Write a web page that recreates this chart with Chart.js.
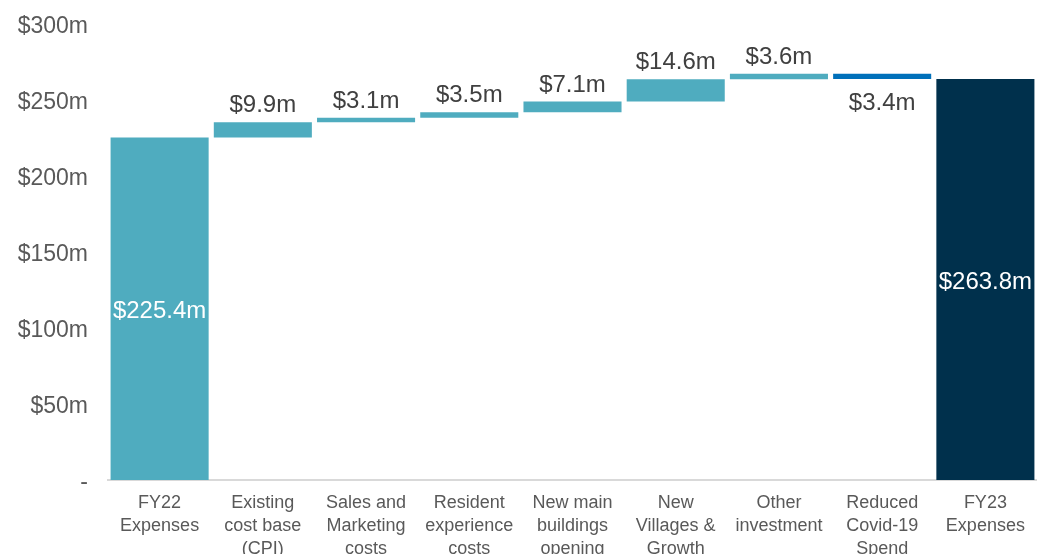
<!DOCTYPE html>
<html>
<head>
<meta charset="utf-8">
<script src="https://cdn.jsdelivr.net/npm/chart.js@4/dist/chart.umd.min.js"></script>
<style>
  html, body { margin: 0; padding: 0; background: #fff; }
  #wrap { width: 1037px; height: 554px; }
</style>
</head>
<body>
<div id="wrap"><canvas id="bridge" width="1037" height="554"></canvas></div>
<script>
// Expense bridge FY22 -> FY23 ($m)
const categories = [
    ['FY22', 'Expenses'],
    ['Existing', 'cost base', '(CPI)'],
    ['Sales and', 'Marketing', 'costs'],
    ['Resident', 'experience', 'costs'],
    ['New main', 'buildings', 'opening'],
    ['New', 'Villages &', 'Growth'],
    ['Other', 'investment'],
    ['Reduced', 'Covid-19', 'Spend'],
    ['FY23', 'Expenses']
];
const amounts = [225.4, 9.9, 3.1, 3.5, 7.1, 14.6, 3.6, -3.4, 263.8];
const isTotal = [true, false, false, false, false, false, false, false, true];
const tickValues = [0, 50, 100, 150, 200, 250, 300];
const tickLabels = ['-', '$50m', '$100m', '$150m', '$200m', '$250m', '$300m'];

const TEAL = '#4FACBF';
const NAVY = '#00304C';
const BLUE = '#0070BA';
const FONT = "'Liberation Sans', Arial, sans-serif";

// build floating [from, to] ranges from the running total
let running = 0;
const ranges = amounts.map((v, i) => {
    if (isTotal[i]) {
        running = v;
        return [0, v];
    }
    const from = running;
    running += v;
    return [from, running];
});

const colors = amounts.map((v, i) => {
    if (i === amounts.length - 1) return NAVY;
    if (v < 0) return BLUE;
    return TEAL;
});

const fmt = v => '$' + Math.abs(v).toFixed(1) + 'm';

// value labels: totals inside the bar, steps above (or below when negative)
const valueLabels = {
    id: 'valueLabels',
    afterDatasetsDraw(chart) {
        const ctx = chart.ctx;
        const meta = chart.getDatasetMeta(0);
        ctx.save();
        ctx.font = '24px ' + FONT;
        ctx.textAlign = 'center';
        meta.data.forEach((bar, i) => {
            const v = amounts[i];
            const top = Math.min(bar.y, bar.base);
            const bottom = Math.max(bar.y, bar.base);
            if (isTotal[i]) {
                ctx.fillStyle = '#ffffff';
                ctx.textBaseline = 'middle';
                ctx.fillText(fmt(v), bar.x, (top + bottom) / 2 + 3);
            } else if (v < 0) {
                ctx.fillStyle = '#404040';
                ctx.textBaseline = 'alphabetic';
                ctx.fillText(fmt(v), bar.x, bottom + 31);
            } else {
                ctx.fillStyle = '#404040';
                ctx.textBaseline = 'alphabetic';
                ctx.fillText(fmt(v), bar.x, top - 10);
            }
        });
        ctx.restore();
    }
};

new Chart(document.getElementById('bridge'), {
    type: 'bar',
    data: {
        labels: categories,
        datasets: [{
            data: ranges,
            backgroundColor: colors,
            borderWidth: 0,
            borderSkipped: false,
            barPercentage: 0.95,
            categoryPercentage: 1.0
        }]
    },
    options: {
        responsive: false,
        animation: false,
        layout: { padding: { top: 24, right: 0, bottom: 0, left: 0 } },
        plugins: {
            legend: { display: false },
            tooltip: { enabled: false }
        },
        scales: {
            x: {
                grid: { display: false, drawTicks: false },
                border: { display: true, color: '#D9D9D9', width: 2 },
                ticks: {
                    color: '#595959',
                    font: { family: FONT, size: 18, lineHeight: 1.27 },
                    padding: 12,
                    maxRotation: 0,
                    autoSkip: false
                },
                afterFit(scale) { scale.height = 74; }
            },
            y: {
                min: 0,
                max: 300,
                grid: { display: false, drawTicks: false },
                border: { display: false },
                afterBuildTicks(scale) {
                    scale.ticks = tickValues.map(value => ({ value }));
                },
                ticks: {
                    color: '#595959',
                    font: { family: FONT, size: 23 },
                    padding: 20,
                    labelOffset: 3,
                    callback: (value) => tickLabels[tickValues.indexOf(value)]
                },
                afterFit(scale) {
                    scale.width = 108;
                    scale.paddingTop = 0;
                    scale.paddingBottom = 0;
                }
            }
        }
    },
    plugins: [valueLabels]
});
</script>
</body>
</html>
